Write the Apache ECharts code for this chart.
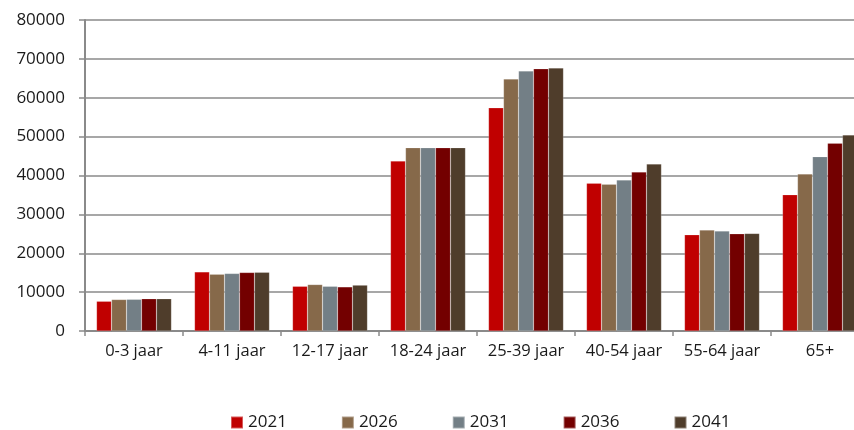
<!DOCTYPE html>
<html>
<head>
<meta charset="utf-8">
<script src="https://cdn.jsdelivr.net/npm/echarts@6/dist/echarts.min.js"></script>
<style>
  html, body { margin: 0; padding: 0; background: #fff; }
  #chart { width: 854px; height: 430px; }
</style>
</head>
<body>
<div id="chart"></div>
<script>
// Leeftijdsgroepen
const categorieen = ['0-3 jaar', '4-11 jaar', '12-17 jaar', '18-24 jaar', '25-39 jaar', '40-54 jaar', '55-64 jaar', '65+'];
const jaren = ['2021', '2026', '2031', '2036', '2041'];
const kleuren = ['#c00000', '#86694a', '#737f86', '#730000', '#4f3d2b'];

// Waarden per jaar
const w2021 = [7650, 15200, 11500, 43700, 57400, 38000, 24750, 35050];
const w2026 = [8100, 14600, 11950, 47150, 64800, 37750, 25950, 40400];
const w2031 = [8150, 14800, 11500, 47150, 66900, 38850, 25700, 44850];
const w2036 = [8300, 15050, 11350, 47150, 67450, 40900, 25000, 48300];
const w2041 = [8300, 15100, 11800, 47150, 67650, 42950, 25100, 50450];
const yTicks = { min: 0, max: 80000, interval: 10000 };

const waarden = [w2021, w2026, w2031, w2036, w2041];

const chart = echarts.init(document.getElementById('chart'));

const series = jaren.map((jaar, i) => ({
    name: jaar,
    type: 'bar',
    data: waarden[i],
    barGap: '0%',
    barCategoryGap: '23.5%',
    itemStyle: { color: kleuren[i], borderColor: 'rgba(255,255,255,0.35)', borderWidth: 0.5 }
}));

const option = {
    animation: false,
    textStyle: { fontFamily: 'Open Sans', color: '#1a1a1a' },
    // plotgebied loopt rechts iets buiten het beeld door, zoals in het origineel
    grid: { left: 85, top: 20, bottom: 99, width: 784, outerBoundsMode: 'none' },
    legend: {
        data: jaren,
        left: 230,
        top: 414,
        padding: 0,
        icon: 'rect',
        itemWidth: 12,
        itemHeight: 12,
        itemGap: 54,
        textStyle: { fontSize: 17, color: '#1a1a1a', fontFamily: 'Open Sans' }
    },
    xAxis: {
        type: 'category',
        data: categorieen,
        axisLine: { lineStyle: { color: '#8a8a8a', width: 2 } },
        axisTick: { show: true, length: 5, alignWithLabel: false, lineStyle: { color: '#8a8a8a', width: 1.5 } },
        axisLabel: { fontSize: 16.5, color: '#1a1a1a', margin: 12, interval: 0 }
    },
    yAxis: {
        type: 'value',
        min: yTicks.min,
        max: yTicks.max,
        interval: yTicks.interval,
        axisLine: { show: true, lineStyle: { color: '#8a8a8a', width: 2 } },
        axisTick: { show: true, length: 6, lineStyle: { color: '#8a8a8a', width: 1.5 } },
        axisLabel: { fontSize: 17, color: '#1a1a1a', margin: 20, formatter: v => String(v) },
        splitLine: { lineStyle: { color: '#8a8a8a', width: 1.5 } }
    },
    series: series
};

chart.setOption(option);
</script>
</body>
</html>
